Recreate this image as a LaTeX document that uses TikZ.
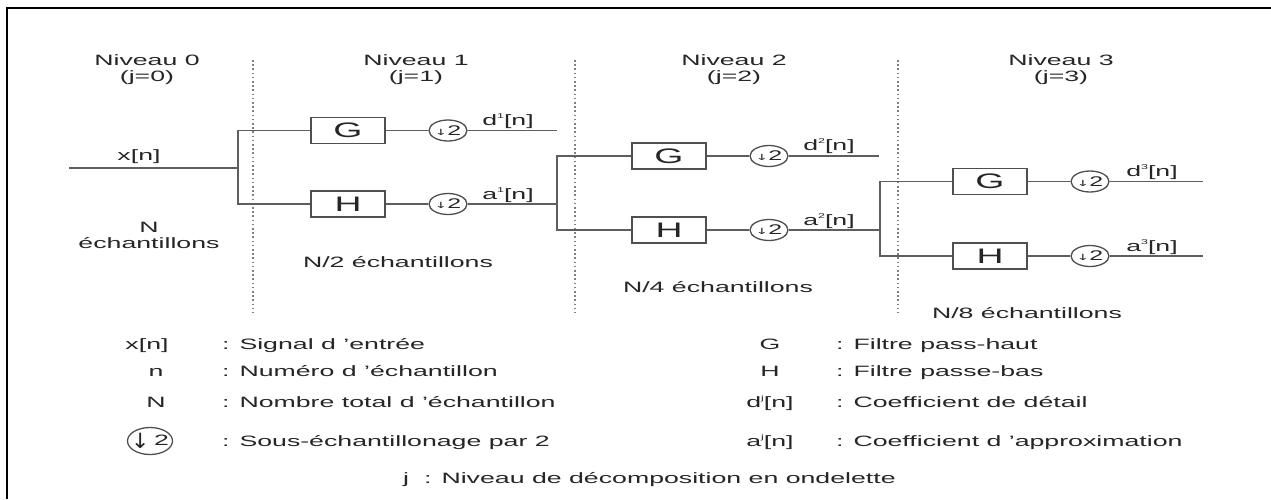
\documentclass[tikz,border=0pt]{standalone}
\usepackage{fontspec}
\usepackage{graphicx}
\setmainfont{Liberation Sans}
\newfontfamily\djv{DejaVu Sans}
\usetikzlibrary{shapes.geometric}
\newcommand{\strx}[1]{\scalebox{1.78}[1]{#1}}
\newcommand{\tsup}[1]{\raisebox{0.85ex}{\fontsize{7}{7}\selectfont #1}}
\newcommand{\dsym}{\strx{{\djv\fontsize{8.5}{8.5}\selectfont ↓}{\fontsize{14}{14}\selectfont 2}}}
\newcommand{\dsymbig}{\strx{\raisebox{-0.35ex}{\scalebox{0.9}[1.5]{\djv\fontsize{14}{14}\selectfont ↓}}\,{\fontsize{15}{15}\selectfont 2}}}
\definecolor{txtc}{HTML}{262626}
\definecolor{lnc}{HTML}{5E5E5E}
\definecolor{bxc}{HTML}{4F4F4F}
\definecolor{dotc}{HTML}{808080}
\begin{document}
\begin{tikzpicture}[x=1pt,y=1pt,
  every node/.style={text=txtc, font=\fontsize{15}{16}\selectfont, inner sep=0pt},
  hdr/.style={align=center},
  conn/.style={draw=lnc, line width=1.5pt},
  filt/.style={draw=bxc, line width=1.5pt, minimum width=74pt, minimum height=26pt, font=\fontsize{21}{21}\selectfont},
  dsamp/.style={ellipse, draw=bxc, line width=1.3pt, minimum width=38pt, minimum height=21pt, label={center:\dsym}},
  dsampbig/.style={ellipse, draw=bxc, line width=1.3pt, minimum width=45pt, minimum height=27pt, label={center:\dsymbig}},
  sepline/.style={draw=dotc, line width=1.7pt, dash pattern=on 1.6pt off 2.6pt},
  framel/.style={draw=black, line width=2.8pt},
  lg/.style={anchor=base west},
  lgs/.style={anchor=base}
]
\useasboundingbox (0,0) rectangle (1271,-499);
\fill[white] (0,0) rectangle (1271,-499);
\draw[framel] (7,-499) -- (7,-8) -- (1271,-8);

% headers
\node[hdr] (n0) at (147,-70) {\strx{Niveau 0}\\\strx{(j=0)}};
\node[hdr] (n1) at (416,-70) {\strx{Niveau 1}\\\strx{(j=1)}};
\node[hdr] (n2) at (734,-70) {\strx{Niveau 2}\\\strx{(j=2)}};
\node[hdr] (n3) at (1061,-70) {\strx{Niveau 3}\\\strx{(j=3)}};

% separators
\coordinate (v1t) at (253,-60); \coordinate (v1b) at (253,-313);
\coordinate (v2t) at (575,-60); \coordinate (v2b) at (575,-313);
\coordinate (v3t) at (898,-60); \coordinate (v3b) at (898,-313);
\draw[sepline] (v1t) -- (v1b);
\draw[sepline] (v2t) -- (v2b);
\draw[sepline] (v3t) -- (v3b);

% stage 1
\coordinate (xin) at (69,-168);
\coordinate (sp1) at (238,-168);
\node[filt] (G1) at (348,-130.5) {\strx{G}};
\node[filt] (H1) at (348,-204) {\strx{H}};
\node[dsamp] (dG1) at (448,-130.5) {};
\node[dsamp] (dH1) at (448,-204) {};
\coordinate (e1) at (557,-130.5);
\coordinate (sp2) at (557,-204);
\draw[conn] (xin) -- (sp1);
\draw[conn] (G1.west) -- (G1.west -| sp1) -- (H1.west -| sp1) -- (H1.west);
\draw[conn] (G1) -- (dG1);
\draw[conn] (dG1) -- (e1);
\draw[conn] (H1) -- (dH1);
\draw[conn] (dH1) -- (sp2);

% stage 2
\node[filt] (G2) at (669,-156) {\strx{G}};
\node[filt] (H2) at (669,-230) {\strx{H}};
\node[dsamp] (dG2) at (769,-156) {};
\node[dsamp] (dH2) at (769,-230) {};
\coordinate (e2) at (879,-156);
\coordinate (sp3) at (880,-230);
\draw[conn] (G2.west) -- (G2.west -| sp2) -- (H2.west -| sp2) -- (H2.west);
\draw[conn] (G2) -- (dG2);
\draw[conn] (dG2) -- (e2);
\draw[conn] (H2) -- (dH2);
\draw[conn] (dH2) -- (sp3);

% stage 3
\node[filt] (G3) at (990,-181.5) {\strx{G}};
\node[filt] (H3) at (990,-256) {\strx{H}};
\node[dsamp] (dG3) at (1090,-181.5) {};
\node[dsamp] (dH3) at (1090,-256) {};
\coordinate (e3) at (1203,-181.5);
\coordinate (e4) at (1203,-256);
\draw[conn] (G3.west) -- (G3.west -| sp3) -- (H3.west -| sp3) -- (H3.west);
\draw[conn] (G3) -- (dG3);
\draw[conn] (dG3) -- (e3);
\draw[conn] (H3) -- (dH3);
\draw[conn] (dH3) -- (e4);

% signal labels
\node (lx) at (139,-157) {\strx{x[n]}};
\node (ld1) at (508,-121) {\strx{d\tsup{1}[n]}};
\node (la1) at (508,-195) {\strx{a\tsup{1}[n]}};
\node (ld2) at (829,-146) {\strx{d\tsup{2}[n]}};
\node (la2) at (829,-221) {\strx{a\tsup{2}[n]}};
\node (ld3) at (1152,-172) {\strx{d\tsup{3}[n]}};
\node (la3) at (1152,-247) {\strx{a\tsup{3}[n]}};

% sample counts
\node[hdr] (c0) at (149,-235) {\strx{N}\\\strx{échantillons}};
\node (c1) at (398,-262) {\strx{N/2 échantillons}};
\node (c2) at (718,-287) {\strx{N/4 échantillons}};
\node (c3) at (1027,-313) {\strx{N/8 échantillons}};

% legend left
\node[lgs] (k1) at (147,-349) {\strx{x[n]}};
\node[lg]  (t1) at (222,-349) {\strx{: Signal d 'entrée}};
\node[lgs] (k2) at (156,-376) {\strx{n}};
\node[lg]  (t2) at (222,-376) {\strx{: Numéro d 'échantillon}};
\node[lgs] (k3) at (156,-407) {\strx{N}};
\node[lg]  (t3) at (222,-407) {\strx{: Nombre total d 'échantillon}};
\node[dsampbig] (k4) at (150,-441) {};
\node[lg]  (t4) at (222,-446) {\strx{: Sous-échantillonage par 2}};

% legend right
\node[lgs] (k5) at (770,-349) {\strx{G}};
\node[lg]  (t5) at (836,-349) {\strx{: Filtre pass-haut}};
\node[lgs] (k6) at (770,-376) {\strx{H}};
\node[lg]  (t6) at (836,-376) {\strx{: Filtre passe-bas}};
\node[lgs] (k7) at (770,-407) {\strx{d\tsup{j}[n]}};
\node[lg]  (t7) at (836,-407) {\strx{: Coefficient de détail}};
\node[lgs] (k8) at (770,-446) {\strx{a\tsup{j}[n]}};
\node[lg]  (t8) at (836,-446) {\strx{: Coefficient d 'approximation}};

% bottom line
\node[lgs] (kj) at (406,-483) {\strx{j}};
\node[lg]  (tj) at (424,-483) {\strx{: Niveau de décomposition en ondelette}};
\end{tikzpicture}
\end{document}
